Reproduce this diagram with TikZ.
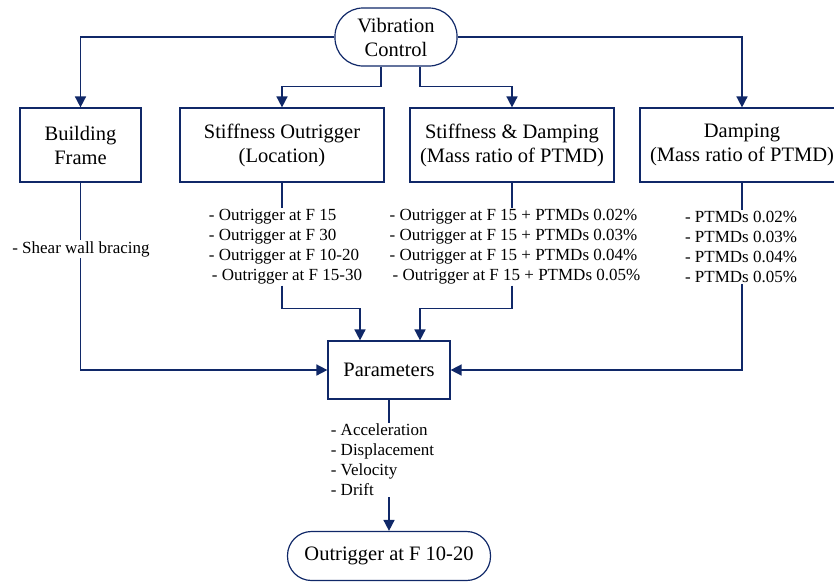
\documentclass[tikz,border=0pt]{standalone}
\usepackage{fontspec}
\setmainfont{Liberation Serif}
\newfontfamily\tnr{Liberation Serif}
\usetikzlibrary{arrows.meta, positioning}

\definecolor{navy}{RGB}{16,40,104}

\begin{document}
\begin{tikzpicture}[
  x=1pt, y=-1pt,
  block/.style={rectangle, draw=navy, line width=1.2pt, minimum width=204pt, minimum height=74pt, align=center, font=\tnr\fontsize{20.5}{24}\selectfont},
  term/.style={rectangle, rounded corners=24pt, draw=navy, line width=1.2pt, align=center, font=\tnr\fontsize{20.5}{24}\selectfont},
  list/.style={align=left, inner sep=1pt, font=\tnr\fontsize{17}{20}\selectfont},
  arrow/.style={navy, line width=1.6pt, -{Triangle[length=11pt, width=11pt]}},
  link/.style={navy, line width=1.6pt}
  ]

  \useasboundingbox (0,0) rectangle (834,582);

  % Top and bottom terminals
  \node[term, rounded corners=28pt, minimum width=122pt, minimum height=58pt] (vc) at (396,37) {Vibration\\Control};
  \node[term, minimum width=203pt, minimum height=49pt] (best) at (389,556) {Outrigger at F 10-20};

  % The four strategies
  \node[block, minimum width=121pt] (frame) at (80.5,145) {Building\\Frame};
  \node[block] (stiff) at (282,145) {Stiffness Outrigger\\(Location)};
  \node[block] (both) at (512,145) {Stiffness \& Damping\\(Mass ratio of PTMD)};
  \node[block] (damp) at (742,145) {Damping\\(Mass ratio of PTMD)};

  \node[block, minimum width=122pt, minimum height=58pt] (param) at (389,370) {Parameters};

  % Cases under each strategy
  \node[list] (stifflist) at (285.5,247) {- Outrigger at F 15\\- Outrigger at F 30\\- Outrigger at F 10-20\\\hspace{3pt}- Outrigger at F 15-30};
  \node[list] (bothlist) at (515,247) {- Outrigger at F 15 + PTMDs 0.02\%\\- Outrigger at F 15 + PTMDs 0.03\%\\- Outrigger at F 15 + PTMDs 0.04\%\\\hspace{3pt}- Outrigger at F 15 + PTMDs 0.05\%};
  \node[list] (damplist) at (741,247) {- PTMDs 0.02\%\\- PTMDs 0.03\%\\- PTMDs 0.04\%\\- PTMDs 0.05\%};
  \node[list] (paramlist) at (382.5,460) {- Acceleration\\- Displacement\\- Velocity\\- Drift};

  % Coordinates for the bends
  \coordinate (vcl) at ([xshift=-15pt]vc.south);
  \coordinate (vcr) at ([xshift=24pt]vc.south);
  \coordinate (pl) at ([xshift=-29pt]param.north);
  \coordinate (pr) at ([xshift=31pt]param.north);

  % Vibration control to strategies
  \draw[arrow] (vc.west) -| (frame.north);
  \draw[arrow] (vc.east) -| (damp.north);
  \draw[arrow] (vcl) -- ++(0,20) -| (stiff.north);
  \draw[arrow] (vcr) -- ++(0,20) -| (both.north);

  % Strategies to cases
  \draw[link] (stiff.south) -- (stiff.south |- stifflist.north);
  \draw[link] (both.south) -- (both.south |- bothlist.north);
  \draw[link] (damp.south) -- (damp.south |- damplist.north);

  % Cases to parameters
  \draw[arrow] (stiff.south |- stifflist.south) -- ++(0,23) -| (pl);
  \draw[arrow] (both.south |- bothlist.south) -- ++(0,23) -| (pr);
  \draw[arrow] (damp.south |- damplist.south) |- (param.east);
  \draw[arrow] (frame.south) |- (param.west);
  \node[list, fill=white] (framelist) at (81,249) {- Shear wall bracing};

  % Parameters to result
  \draw[link] (param.south) -- (param.south |- paramlist.north);
  \draw[arrow] (param.south |- paramlist.south) -- (best.north);

\end{tikzpicture}
\end{document}
